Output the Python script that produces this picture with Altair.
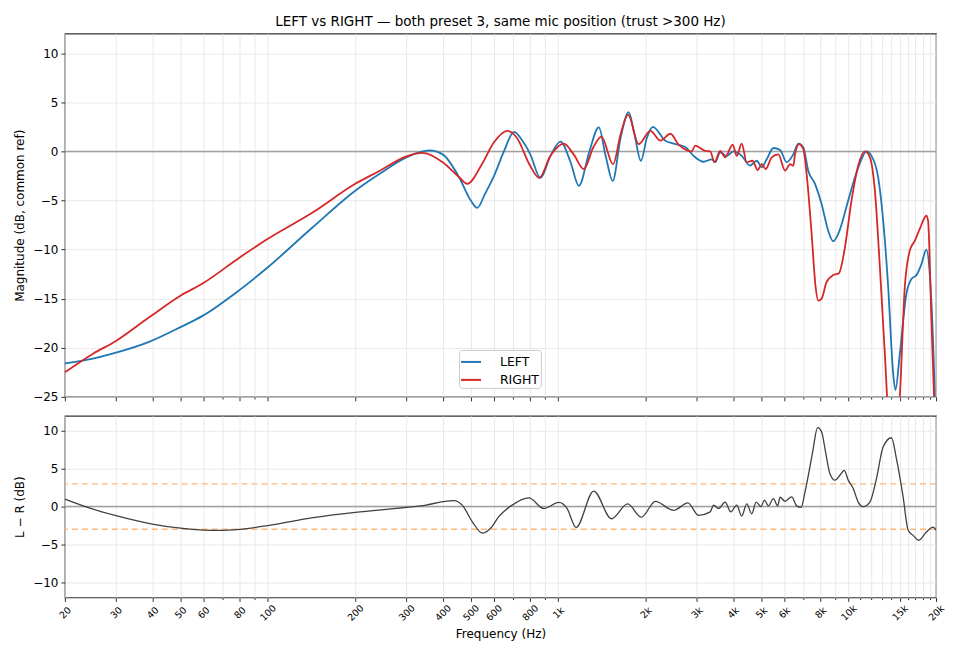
import altair as alt
import pandas as pd

# LEFT channel magnitude (dB, common ref)
freq_left = [20, 25, 30, 39, 50, 60, 80, 100, 143, 200, 242, 300, 360, 400, 455, 500, 526, 560,
             600, 650, 704, 760, 800, 869, 940, 1018, 1100, 1178, 1280, 1379, 1460, 1540, 1640,
             1748, 1830, 1926, 2020, 2118, 2337, 2500, 2738, 2924, 3164, 3380, 3472, 3612, 3806,
             4012, 4284, 4578, 4824, 5020, 5222, 5508, 5808, 6118, 6450, 6710, 6982, 7264, 7660,
             8070, 8512, 8852, 9210, 9968, 10510, 11074, 11522, 11988, 12642, 13152, 13684,
             14234, 14496, 15010, 15812, 16452, 17116, 17806, 18524, 19028, 19794, 20000]
mag_left = [-21.6, -21.1, -20.5, -19.4, -17.9, -16.7, -14.1, -11.8, -7.7, -4.0, -2.3, -0.6, 0.1,
            -0.3, -2.6, -5.0, -5.75, -4.3, -2.55, 0.0, 2.0, 0.9, -0.25, -2.7, -0.45, 1.0, -1.0,
            -3.5, 0.0, 2.45, -0.6, -3.0, 1.4, 4.0, 1.75, -0.95, 1.4, 2.5, 1.1, 0.8, 0.45, -0.45,
            -1.05, -0.8, -1.1, -0.1, -0.45, 0.0, -0.45, -1.45, -0.95, -1.6, -0.8, 0.35, 0.15,
            -1.1, -0.3, 0.8, 0.4, -2.0, -3.3, -5.35, -8.1, -9.15, -8.4, -5.0, -2.65, -0.8, 0.0,
            -0.45, -2.65, -7.05, -13.8, -22.6, -24.3, -20.6, -14.5, -13.0, -12.6, -11.5, -10.0,
            -12.5, -24.7, -30.0]

# RIGHT channel magnitude (dB, common ref)
freq_right = [20, 25, 30, 39, 50, 60, 80, 100, 143, 200, 242, 300, 340, 400, 455, 486, 546, 600,
              667, 720, 800, 860, 940, 1045, 1130, 1225, 1320, 1409, 1545, 1640, 1740, 1892, 2076,
              2250, 2433, 2597, 2700, 2880, 2965, 3208, 3338, 3452, 3612, 3756, 3990, 4118, 4284,
              4458, 4664, 4864, 5020, 5182, 5432, 5728, 6040, 6288, 6450, 6536, 6748, 6982, 7168,
              7458, 7696, 7862, 8070, 8396, 8852, 9260, 9714, 10232, 10790, 11378, 11838, 12316,
              12812, 13328, 13684, 14234, 14600, 15010, 15612, 16242, 16900, 17580, 18524, 18774,
              19270, 19794, 20000]
mag_right = [-22.5, -20.6, -19.3, -16.9, -14.7, -13.4, -10.8, -8.9, -6.2, -3.3, -2.0, -0.5, -0.15,
             -1.1, -2.6, -3.3, -1.3, 0.9, 2.1, 1.4, -1.45, -2.7, -0.45, 0.8, -0.3, -1.8, 0.4, 1.5,
             -1.3, 1.75, 3.75, 0.75, 2.1, 1.1, 1.8, 0.7, 0.3, 0.0, 0.6, 0.05, 0.0, -1.1, 0.05,
             -0.6, 0.7, -0.45, 0.8, -1.1, -0.95, -1.9, -1.3, -1.8, -0.6, -0.3, -1.95, -1.3, -1.45,
             -0.3, 0.75, 0.25, -2.3, -8.4, -13.8, -15.2, -15.0, -13.3, -12.6, -12.4, -9.75, -5.0,
             -1.45, 0.0, -0.6, -4.0, -11.8, -20.6, -27.0, -32.0, -30.0, -25.0, -13.8, -10.1, -9.1,
             -7.9, -6.55, -7.05, -16.9, -27.0, -30.0]

# L - R difference (dB)
freq_diff = [20, 24.4, 30, 40, 50, 60, 68, 80, 100, 143, 200, 300, 350, 400, 438, 467, 506, 548,
             585, 625, 694, 792, 892, 1005, 1073, 1152, 1325, 1525, 1734, 1933, 2160, 2496, 2796,
             3042, 3338, 3426, 3564, 3756, 3928, 4118, 4284, 4458, 4638, 4804, 4994, 5128, 5294,
             5508, 5696, 5808, 6040, 6366, 6624, 6856, 7078, 7304, 7516, 7818, 8070, 8330, 8624,
             8974, 9336, 9658, 9968, 10372, 10790, 11226, 11838, 12472, 13152, 14044, 14610,
             15404, 16028, 16674, 17438, 18524, 19532, 20000]
diff_lr = [1.0, -0.2, -1.2, -2.3, -2.85, -3.1, -3.15, -3.0, -2.5, -1.45, -0.75, -0.1, 0.2, 0.65,
           0.8, 0.2, -2.0, -3.5, -2.85, -1.3, 0.2, 1.15, -0.25, 0.55, -0.25, -2.75, 2.05, -1.6,
           0.35, -1.4, 0.7, -0.5, 0.5, -1.15, -0.7, 0.2, -0.25, 0.6, -0.7, 0.2, -1.25, 0.35,
           -0.95, 0.6, 0.0, 0.85, 0.1, 1.05, 0.1, 1.25, 0.7, 1.3, 0.1, -0.1, 1.95, 4.6, 7.2,
           10.45, 9.9, 7.2, 4.35, 3.5, 4.15, 4.8, 3.5, 2.4, 0.6, 0.0, 0.6, 3.7, 7.9, 9.1, 6.35,
           1.3, -3.1, -3.8, -4.45, -3.35, -2.7, -3.1]

major_ticks = [20, 30, 40, 50, 60, 80, 100, 200, 300, 400, 500, 600, 800, 1000, 2000, 3000,
               4000, 5000, 6000, 8000, 10000, 15000, 20000]
minor_ticks = [70, 90, 700, 900, 7000, 9000, 11000, 12000, 13000, 14000, 16000, 17000, 18000,
               19000]
channels = ['LEFT', 'RIGHT']
colors = ['#1f77b4', '#d62728']

FONT = 'DejaVu Sans'
W = 873

df_mag = pd.concat([
    pd.DataFrame({'f': freq_left, 'mag': mag_left, 'channel': 'LEFT'}),
    pd.DataFrame({'f': freq_right, 'mag': mag_right, 'channel': 'RIGHT'}),
])
df_diff = pd.DataFrame({'f': freq_diff, 'd': diff_lr})

all_ticks = sorted(major_ticks + minor_ticks)
major_str = '[' + ','.join(str(v) for v in major_ticks) + ']'
tick_size = {'condition': {'test': f'indexof({major_str}, datum.value) < 0', 'value': 2.2},
             'value': 4}
label_expr = (f"indexof({major_str}, datum.value) < 0 ? '' : "
              "(datum.value >= 1000 ? (datum.value / 1000) + 'k' : '' + datum.value)")

x_scale = alt.Scale(type='log', domain=[20, 20000], nice=False)


def x_axis(show_labels):
    if show_labels:
        return alt.Axis(values=all_ticks, labelExpr=label_expr, tickSize=tick_size,
                        labelAngle=315, labelAlign='center', labelBaseline='middle',
                        labelPadding=11, labelFontSize=9.5, labelOverlap=False, labelFlush=False,
                        title='Frequency (Hz)', titlePadding=7)
    return alt.Axis(values=all_ticks, labels=False, tickSize=tick_size, title=None,
                    minExtent=0, maxExtent=4)


# Top panel: magnitude
zero_top = alt.Chart(pd.DataFrame({'y': [0]})).mark_rule(color='#a0a0a0', strokeWidth=1.5).encode(
    y=alt.Y('y:Q', scale=alt.Scale(domain=[-25, 12], nice=False))
)
lines = alt.Chart(df_mag).mark_line(strokeWidth=1.8, clip=True, interpolate='monotone').encode(
    x=alt.X('f:Q', scale=x_scale, axis=x_axis(False)),
    y=alt.Y('mag:Q', scale=alt.Scale(domain=[-25, 12], nice=False),
            axis=alt.Axis(values=[-25, -20, -15, -10, -5, 0, 5, 10],
                          title='Magnitude (dB, common ref)', minExtent=30, maxExtent=30)),
    color=alt.Color('channel:N', scale=alt.Scale(domain=channels, range=colors),
                    legend=alt.Legend(title=None, orient='none', legendX=395, legendY=317,
                                      symbolType='stroke', symbolStrokeWidth=2, symbolSize=400,
                                      fillColor='white', strokeColor='#cccccc', padding=1,
                                      cornerRadius=3, labelFontSize=12.5, rowPadding=-1.3,
                                      labelOffset=18)),
)
top = alt.layer(zero_top, lines).properties(
    width=W, height=364,
    title=alt.TitleParams('LEFT vs RIGHT \u2014 both preset 3, same mic position (trust >300 Hz)',
                          fontSize=13.5, fontWeight='normal', frame='group', anchor='middle',
                          offset=5),
)

# Bottom panel: difference
ref_lines = pd.DataFrame({'y': [3, -3]})
band = alt.Chart(ref_lines).mark_rule(color='#ffb77a', strokeWidth=1.4, strokeDash=[6, 4]).encode(
    y=alt.Y('y:Q', scale=alt.Scale(domain=[-12, 12], nice=False))
)
zero_bot = alt.Chart(pd.DataFrame({'y': [0]})).mark_rule(color='#a0a0a0', strokeWidth=1.5).encode(
    y=alt.Y('y:Q', scale=alt.Scale(domain=[-12, 12], nice=False))
)
diff_line = alt.Chart(df_diff).mark_line(color='#404040', strokeWidth=1.3, clip=True,
                                         interpolate='monotone').encode(
    x=alt.X('f:Q', scale=x_scale, axis=x_axis(True)),
    y=alt.Y('d:Q', scale=alt.Scale(domain=[-12, 12], nice=False),
            axis=alt.Axis(values=[-10, -5, 0, 5, 10], title='L \u2212 R (dB)',
                          minExtent=30, maxExtent=30)),
)
bottom = alt.layer(band, zero_bot, diff_line).properties(width=W, height=182)

chart = alt.vconcat(top, bottom, spacing=11).resolve_scale(y='independent').configure_view(
    stroke='#333333', strokeWidth=1.2
).configure_axis(
    labelFont=FONT, titleFont=FONT, labelFontSize=12, titleFontSize=12, titleFontWeight='normal',
    labelColor='#000000', titleColor='#000000', domain=False, tickColor='#333333',
    gridColor='#e3e3e3', gridWidth=0.8
).configure_axisY(
    tickSize=4, labelPadding=3, titlePadding=8
).configure_legend(
    labelFont=FONT
).configure_title(
    font=FONT, color='#000000'
)

chart.save("out.html", embed_options={"renderer": "svg", "actions": False})
